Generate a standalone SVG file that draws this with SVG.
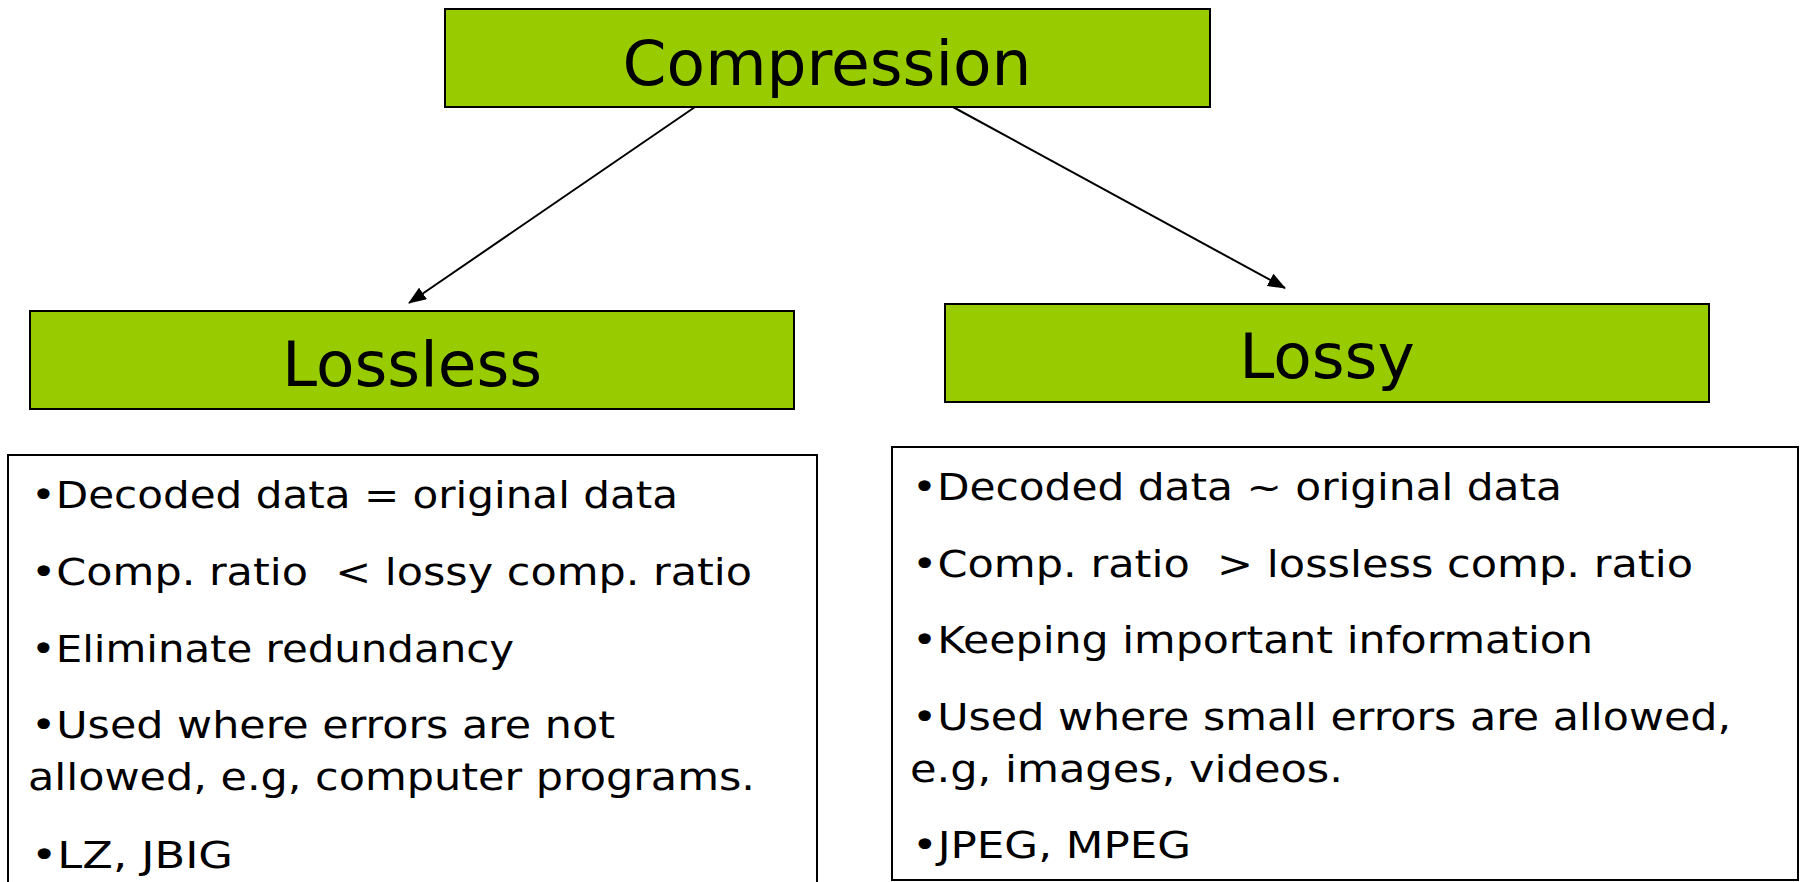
<svg xmlns="http://www.w3.org/2000/svg" width="1800" height="882" viewBox="0 0 1800 882">
<style>
.title{fill:#99CC00;stroke:#000;stroke-width:2}
.box{fill:#fff;stroke:#000;stroke-width:2}
.tt{font-family:"DejaVu Sans",Verdana,sans-serif;font-size:63px;fill:#000;text-anchor:middle}
.bt{font-family:"DejaVu Sans",Verdana,sans-serif;font-size:38px;fill:#000;white-space:pre}
.conn{stroke:#000;stroke-width:2;fill:none;marker-end:url(#ah)}
</style>
<defs>
<marker id="ah" markerUnits="userSpaceOnUse" markerWidth="18" markerHeight="14" refX="17" refY="7" orient="auto">
<path d="M0,0 L18,7 L0,14 z" fill="#000"/>
</marker>
</defs>
<rect width="1800" height="882" fill="#fff"/>
<g id="connectors">
<line class="conn" x1="695" y1="107" x2="409" y2="303"/>
<line class="conn" x1="953" y1="107" x2="1285" y2="288"/>
</g>
<g id="compression">
<rect class="title" x="445" y="9" width="765" height="98"/>
<text class="tt" x="827" y="85">Compression</text>
</g>
<g id="lossless">
<rect class="title" x="30" y="311" width="764" height="98"/>
<text class="tt" x="412" y="386">Lossless</text>
</g>
<g id="lossy">
<rect class="title" x="945" y="304" width="764" height="98"/>
<text class="tt" x="1327" y="378">Lossy</text>
</g>
<g id="lossless-details">
<rect class="box" x="8" y="455" width="809" height="440"/>
<text class="bt" x="31" y="508" textLength="647" lengthAdjust="spacingAndGlyphs">•Decoded data = original data</text>
<text class="bt" x="31" y="585" textLength="721" lengthAdjust="spacingAndGlyphs" xml:space="preserve">•Comp. ratio  &lt; lossy comp. ratio</text>
<text class="bt" x="31" y="662" textLength="483" lengthAdjust="spacingAndGlyphs">•Eliminate redundancy</text>
<text class="bt" x="31" y="738" textLength="584" lengthAdjust="spacingAndGlyphs">•Used where errors are not</text>
<text class="bt" x="28" y="790" textLength="727" lengthAdjust="spacingAndGlyphs">allowed, e.g, computer programs.</text>
<text class="bt" x="31" y="868" textLength="202" lengthAdjust="spacingAndGlyphs">•LZ, JBIG</text>
</g>
<g id="lossy-details">
<rect class="box" x="892" y="447" width="906" height="433"/>
<text class="bt" x="912" y="500" textLength="650" lengthAdjust="spacingAndGlyphs">•Decoded data ~ original data</text>
<text class="bt" x="912" y="577" textLength="781" lengthAdjust="spacingAndGlyphs" xml:space="preserve">•Comp. ratio  &gt; lossless comp. ratio</text>
<text class="bt" x="912" y="653" textLength="681" lengthAdjust="spacingAndGlyphs">•Keeping important information</text>
<text class="bt" x="912" y="730" textLength="819" lengthAdjust="spacingAndGlyphs">•Used where small errors are allowed,</text>
<text class="bt" x="910" y="782" textLength="433" lengthAdjust="spacingAndGlyphs">e.g, images, videos.</text>
<text class="bt" x="912" y="858" textLength="279" lengthAdjust="spacingAndGlyphs">•JPEG, MPEG</text>
</g>
</svg>
